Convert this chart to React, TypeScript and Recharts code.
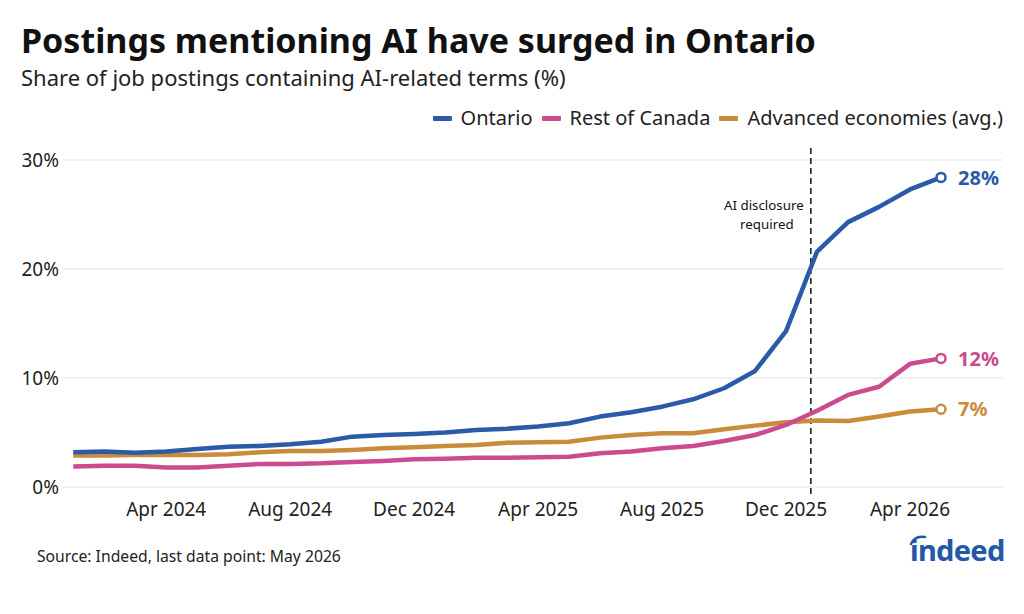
import React from "react";
import {
  LineChart,
  Line,
  XAxis,
  YAxis,
  CartesianGrid,
  ReferenceLine,
} from "recharts";

const FONT = "'Noto Sans', 'Open Sans', sans-serif";

const months = [
  "Jan 2024", "Feb 2024", "Mar 2024", "Apr 2024", "May 2024", "Jun 2024",
  "Jul 2024", "Aug 2024", "Sep 2024", "Oct 2024", "Nov 2024", "Dec 2024",
  "Jan 2025", "Feb 2025", "Mar 2025", "Apr 2025", "May 2025", "Jun 2025",
  "Jul 2025", "Aug 2025", "Sep 2025", "Oct 2025", "Nov 2025", "Dec 2025",
  "Jan 2026", "Feb 2026", "Mar 2026", "Apr 2026", "May 2026",
];

// share of postings with AI-related terms, %
const ontario = [
  3.19, 3.25, 3.15, 3.25, 3.49, 3.7, 3.76, 3.92, 4.16, 4.62, 4.77, 4.86,
  4.99, 5.23, 5.35, 5.55, 5.85, 6.46, 6.86, 7.37, 8.05, 9.06, 10.65, 14.3,
  21.6, 24.3, 25.7, 27.3, 28.4,
];
const restOfCanada = [
  1.87, 1.96, 1.96, 1.8, 1.8, 1.96, 2.11, 2.11, 2.17, 2.3, 2.39, 2.54,
  2.6, 2.69, 2.69, 2.72, 2.78, 3.09, 3.25, 3.55, 3.76, 4.22, 4.77, 5.69,
  7.0, 8.45, 9.2, 11.3, 11.8,
];
const advanced = [
  2.88, 2.88, 2.94, 2.94, 2.94, 3.0, 3.18, 3.3, 3.3, 3.4, 3.55, 3.64,
  3.76, 3.86, 4.07, 4.1, 4.16, 4.53, 4.77, 4.93, 4.93, 5.3, 5.63, 5.94,
  6.09, 6.06, 6.46, 6.92, 7.13,
];

const xTicks = [3, 7, 11, 15, 19, 23, 27];
const yTicks = [0, 10, 20, 30];
// disclosure rule lands late in Dec 2025
const disclosureMonth = 23.8;

const series = [
  { key: "advanced", label: "Advanced economies (avg.)", color: "#c88c3a" },
  { key: "restOfCanada", label: "Rest of Canada", color: "#cc4a8e" },
  { key: "ontario", label: "Ontario", color: "#2a5aa8" },
];
const legendOrder = ["ontario", "restOfCanada", "advanced"];

const data = months.map((month, i) => ({
  idx: i,
  month,
  ontario: ontario[i],
  restOfCanada: restOfCanada[i],
  advanced: advanced[i],
}));

const last = months.length - 1;

function endDot(color: string) {
  return (props: any) => {
    const { cx, cy, index } = props;
    if (index !== last) return <g key={`d-${index}`} />;
    return (
      <circle
        key={`d-${index}`}
        cx={cx}
        cy={cy}
        r={4.5}
        fill="#fff"
        stroke={color}
        strokeWidth={2.5}
      />
    );
  };
}

function endLabel(color: string) {
  return (props: any) => {
    const { x, y, index, value } = props;
    if (index !== last) return null;
    return (
      <text
        key={`l-${index}`}
        x={x + 17}
        y={y}
        dy="0.36em"
        fill={color}
        fontSize={20}
        fontWeight={700}
        fontFamily={FONT}
      >
        {Math.round(value)}%
      </text>
    );
  };
}

function DisclosureLabel(props: any) {
  const { viewBox } = props;
  const x = viewBox.x - 47;
  const top = Math.min(viewBox.y, viewBox.y + (viewBox.height || 0));
  return (
    <text fontSize={13.3} fill="#111" fontFamily={FONT} textAnchor="middle">
      <tspan x={x} y={top + 62}>AI disclosure</tspan>
      <tspan x={x + 3} y={top + 81}>required</tspan>
    </text>
  );
}

export default function App() {
  return (
    <div
      style={{
        position: "absolute",
        left: 0,
        top: 0,
        width: 1024,
        height: 614,
        background: "#fff",
        fontFamily: FONT,
      }}
    >
      <svg
        width={1024}
        height={614}
        style={{ position: "absolute", left: 0, top: 0 }}
      >
        <text x={21} y={53} fontSize={34} fontWeight={700} fill="#111" fontFamily={FONT}>
          Postings mentioning AI have surged in Ontario
        </text>
        <text x={21} y={86} fontSize={22} fill="#222" fontFamily={FONT}>
          Share of job postings containing AI-related terms (%)
        </text>
        <text x={37} y={562} fontSize={15.7} fill="#222" fontFamily={FONT}>
          Source: Indeed, last data point: May 2026
        </text>
        <path
          d="M911 544 Q915 535 925 537"
          fill="none"
          stroke="#2557a7"
          strokeWidth={2.5}
          strokeLinecap="round"
        />
        <text
          x={910}
          y={561}
          fontSize={29}
          fontWeight={700}
          fill="#2557a7"
          fontFamily={FONT}
          letterSpacing={-0.7}
        >
          indeed
        </text>
      </svg>

      <div
        style={{
          position: "absolute",
          right: 21,
          top: 105,
          display: "flex",
          alignItems: "center",
          fontSize: 20,
          color: "#222",
          lineHeight: "26px",
        }}
      >
        {legendOrder.map((k) => {
          const s = series.find((d) => d.key === k)!;
          return (
            <div key={k} style={{ display: "flex", alignItems: "center", marginLeft: 9 }}>
              <span
                style={{
                  display: "inline-block",
                  width: 19,
                  height: 5,
                  borderRadius: 1,
                  background: s.color,
                  marginRight: 9,
                }}
              />
              <span>{s.label}</span>
            </div>
          );
        })}
      </div>

      <div style={{ position: "absolute", left: 0, top: 0 }}>
        <LineChart
          width={1024}
          height={614}
          data={data}
          margin={{ top: 160, right: 21, bottom: 97, left: 0 }}
        >
          <CartesianGrid vertical={false} stroke="#e3e3e3" strokeWidth={1} />
          <XAxis
            dataKey="idx"
            type="number"
            domain={[-0.33, 30]}
            ticks={xTicks}
            tickFormatter={(v) => months[v]}
            axisLine={false}
            tickLine={false}
            tickSize={0}
            tickMargin={16}
            height={30}
            interval={0}
            tick={{ fontSize: 19, fill: "#222", fontFamily: FONT }}
          />
          <YAxis
            domain={[0, 30]}
            ticks={yTicks}
            tickFormatter={(v) => `${v}%`}
            axisLine={false}
            tickLine={false}
            tickSize={0}
            tickMargin={4}
            width={63}
            tick={{ fontSize: 19, fill: "#222", fontFamily: FONT }}
          />
          <ReferenceLine
            segment={[
              { x: disclosureMonth, y: 31.1 },
              { x: disclosureMonth, y: -0.7 },
            ]}
            ifOverflow="visible"
            stroke="#111"
            strokeWidth={1.5}
            strokeDasharray="6 4"
            label={<DisclosureLabel />}
          />
          {series.map((s) => (
            <Line
              key={s.key}
              type="linear"
              dataKey={s.key}
              name={s.label}
              stroke={s.color}
              strokeWidth={4.5}
              strokeLinejoin="round"
              dot={endDot(s.color)}
              activeDot={false}
              label={endLabel(s.color)}
              isAnimationActive={false}
            />
          ))}
        </LineChart>
      </div>
    </div>
  );
}
